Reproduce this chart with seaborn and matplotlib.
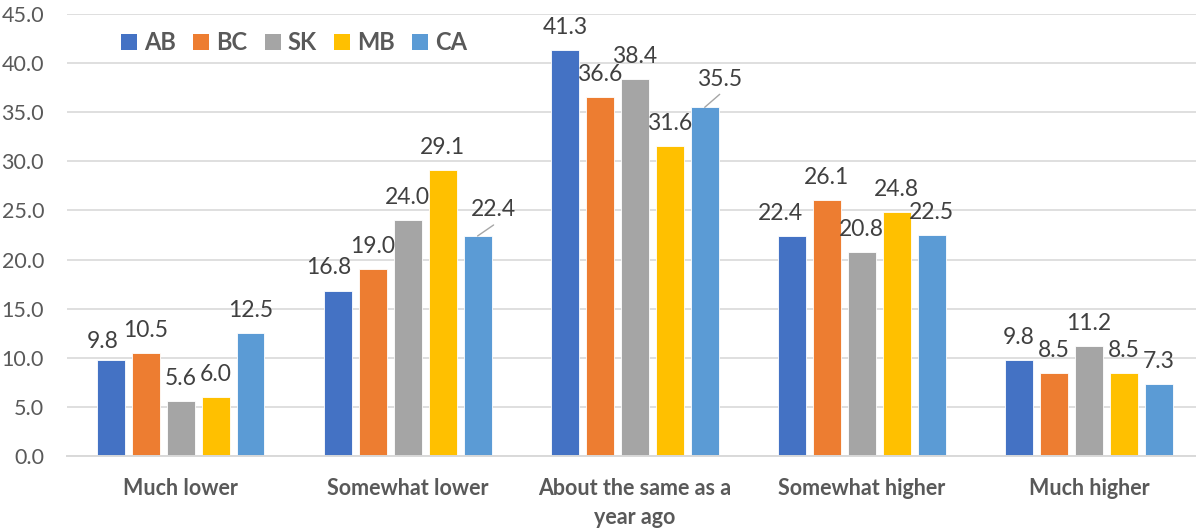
import numpy as np
import pandas as pd
import matplotlib
matplotlib.use("Agg")
import matplotlib.pyplot as plt
from matplotlib.patches import Patch
import seaborn as sns

# ---- data -------------------------------------------------------------
categories = ["Much lower", "Somewhat lower", "About the same as a\nyear ago",
              "Somewhat higher", "Much higher"]
regions = ["AB", "BC", "SK", "MB", "CA"]
ab = [9.8, 16.8, 41.3, 22.4, 9.8]
bc = [10.5, 19.0, 36.6, 26.1, 8.5]
sk = [5.6, 24.0, 38.4, 20.8, 11.2]
mb = [6.0, 29.1, 31.6, 24.8, 8.5]
ca = [12.5, 22.4, 35.5, 22.5, 7.3]
y_ticks = [0, 5, 10, 15, 20, 25, 30, 35, 40, 45]

series = {"AB": ab, "BC": bc, "SK": sk, "MB": mb, "CA": ca}
df = pd.DataFrame(
    [(cat, reg, series[reg][i]) for reg in regions for i, cat in enumerate(categories)],
    columns=["category", "region", "value"],
)

# ---- style ------------------------------------------------------------
colors = ["#4472C4", "#ED7D31", "#A5A5A5", "#FFC000", "#5B9BD5"]
grid_color = "#D9D9D9"
tick_color = "#595959"
label_color = "#404040"
font = ["Lato", "DejaVu Sans"]

sns.set_theme(style="white")
plt.rcParams["font.family"] = font

fig = plt.figure(figsize=(11.96, 5.29), dpi=100)
ax = fig.add_axes([67 / 1196, 73 / 529, 1 - 67 / 1196, (456 - 14) / 529])

sns.barplot(data=df, x="category", y="value", hue="region", palette=colors,
            order=categories, hue_order=regions, width=0.77, gap=0.2,
            saturation=1, errorbar=None, edgecolor="white", linewidth=0.6,
            ax=ax, legend=False)

ax.set_xlim(-0.5, -0.5 + (1196 - 67) / 227.1)
ax.set_ylim(0, 45)
ax.set_yticks(y_ticks)
ax.set_yticklabels([f"{v:.1f}" for v in y_ticks], fontsize=15.5, color=tick_color)
ax.set_xticks(range(len(categories)))
ax.set_xticklabels(categories, fontsize=15.5, fontweight="bold", color=tick_color,
                   linespacing=1.45)
ax.tick_params(axis="y", length=0, pad=16.5)
ax.tick_params(axis="x", length=0, pad=16)
ax.set_xlabel("")
ax.set_ylabel("")
ax.grid(axis="y", color=grid_color, linewidth=1.2)
ax.set_axisbelow(True)
for side in ["top", "right", "left"]:
    ax.spines[side].set_visible(False)
ax.spines["bottom"].set_color(grid_color)
ax.spines["bottom"].set_linewidth(1.4)

# ---- value labels -----------------------------------------------------
# label offsets in pixels (dx, dy) relative to the bar top; some use a leader line
default_offset = (0, 22.5)
nudges = {
    (0, 0): (-8, 18),
    (1, 0): (-9, 23),
    (1, 4): (16, 26),
    (2, 4): (15, 28),
    (3, 0): (-11, 22.5),
}
leaders = {(1, 4), (2, 4)}

for s_idx, container in enumerate(ax.containers):
    for c_idx, bar in enumerate(container):
        x = bar.get_x() + bar.get_width() / 2
        h = bar.get_height()
        dx, dy = nudges.get((c_idx, s_idx), default_offset)
        ax.annotate(f"{h:.1f}", xy=(x, h), xytext=(dx, dy), textcoords="offset pixels",
                    ha="center", va="center", fontsize=16.5, color=label_color)
        if (c_idx, s_idx) in leaders:
            ax.annotate("", xy=(x, h), xytext=(dx, dy - 15), textcoords="offset pixels",
                        arrowprops=dict(arrowstyle="-", color="#A6A6A6", lw=1,
                                        shrinkA=0, shrinkB=0))

# ---- legend -----------------------------------------------------------
handles = [Patch(facecolor=c, edgecolor="none", label=r) for c, r in zip(colors, regions)]
fig.legend(handles=handles, loc="center left", bbox_to_anchor=(121 / 1196, 1 - 43 / 529),
           ncol=5, frameon=False, borderpad=0, borderaxespad=0,
           handlelength=0.68, handleheight=0.68, handletextpad=0.28, columnspacing=0.75,
           prop={"family": font, "weight": "bold", "size": 17}, labelcolor=tick_color)

fig.savefig("out.png", dpi=100)
